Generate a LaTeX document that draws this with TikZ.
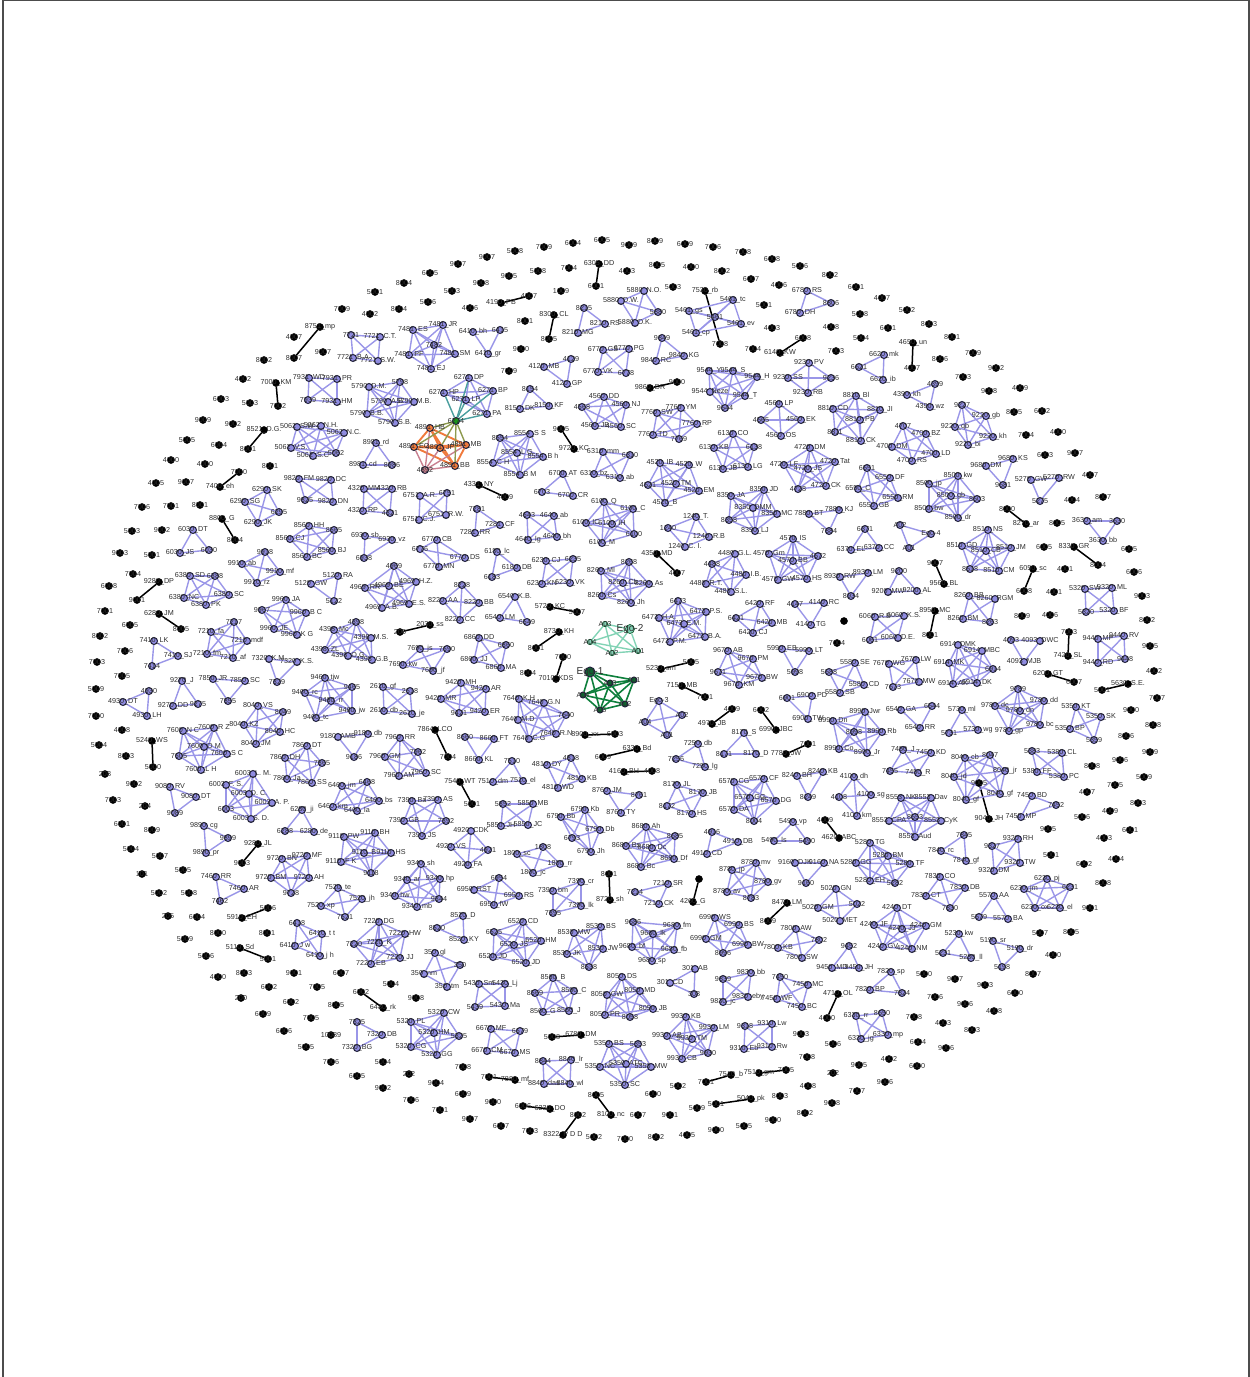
\documentclass[tikz,border=0pt]{standalone}
\usepackage{fontspec}
\setmainfont{Liberation Sans}
\catcode`\_=12
\definecolor{bfill}{HTML}{8F8BE0}
\definecolor{bline}{HTML}{9A96E8}
\definecolor{dark}{HTML}{20203A}
\definecolor{txt}{HTML}{2E2E2E}
\definecolor{oran}{HTML}{F07A3C}
\definecolor{rose}{HTML}{C98090}
\definecolor{oliv}{HTML}{8E9A4E}
\definecolor{teal1}{HTML}{4A9E9E}
\definecolor{gdark}{HTML}{0E7F3C}
\definecolor{glite}{HTML}{82D3B5}
\pgfdeclarelayer{edges}
\pgfsetlayers{edges,main}
\newcount\cid
\tikzset{
 x=1pt,y=-1pt,
 lab/.style={font=\fontsize{7.2}{8}\selectfont,text=txt,inner sep=0pt},
 isonode/.style={circle,fill=black,draw=black,line width=0.3pt,minimum size=7.2pt,inner sep=0pt},
 bnode/.style={circle,fill=bfill,draw=dark,line width=1pt,minimum size=7pt,inner sep=0pt},
 bedge/.style={draw=bline,line width=1.4pt},
 duoedge/.style={draw=black,line width=1.5pt},
 onode/.style={bnode,fill=oran},
 rnode/.style={bnode,fill=rose},
 anode/.style={bnode,fill=green!55!black!90},
 oedge/.style={draw=oran,line width=1.9pt},
 redge/.style={draw=rose,line width=1.4pt},
 liedge/.style={draw=oliv,line width=1.4pt},
 tedge/.style={draw=teal1,line width=1.4pt},
 g1node/.style={bnode,fill=gdark!80!black,minimum size=6pt},
 g1edge/.style={draw=gdark,line width=1.6pt},
 g2node/.style={bnode,fill=glite,draw=gdark!60!black,line width=0.6pt,minimum size=5.5pt},
 g2edge/.style={draw=glite,line width=1.4pt},
 frameline/.style={draw=black!70,line width=1.2pt},
}
\newcommand\ClqS[3]{%
 \global\advance\cid by 1
 \foreach \x/\y/\lbl [count=\k] in {#3}{%
  \node[#1,label={[lab]center:\lbl}] (c\the\cid-\k) at (\x,\y) {};\xdef\nk{\k}}%
 \begin{pgfonlayer}{edges}%
 \foreach \a in {1,...,\nk}{\foreach \b in {1,...,\nk}{%
  \ifnum\a<\b \draw[#2] (c\the\cid-\a)--(c\the\cid-\b);\fi}}%
 \end{pgfonlayer}}
\newcommand\Clq[1]{\ClqS{bnode}{bedge}{#1}}
\begin{document}
\begin{tikzpicture}
\useasboundingbox (0,0) rectangle (1250,1377);
\coordinate (fa) at (3,1377);\coordinate (fb) at (3,0.5);\coordinate (fc) at (1249,0.5);\coordinate (fd) at (1249,1377);
\draw[frameline] (fa)--(fb)--(fc)--(fd);
% isolated vertices
\foreach \x/\y/\lbl [count=\k] in {
430/273/6005,404/283/8004,375/292/5001,428/302/5006,399/309/8004,342/309/7009,370/314/4002,294/337/4007,323/352/9007,264/360/8002,
243/379/4002,221/399/6003,250/403/5003,203/420/9009,233/424/9002,187/440/5005,219/445/6004,171/460/4000,205/464/4000,270/466/8001,
156/483/4005,186/482/9007,142/507/7006,171/506/7001,200/505/8001,132/531/5003,162/530/9002,
515/251/5008,544/247/7009,573/243/6004,602/240/6005,629/245/9009,655/241/8009,685/244/6009,713/247/7006,743/252/7008,772/259/6008,800/266/5006,
487/257/9007,458/264/9007,509/276/9005,538/271/5008,569/268/7004,627/271/4003,657/265/8005,691/267/4000,722/271/8002,751/279/6007,779/285/4006,
481/283/9008,452/291/5003,561/291/1009,673/287/5003,470/308/4006,764/305/5001,525/321/8001,772/328/4003,521/349/9000,753/349/7004,509/371/7009,
830/275/8002,856/287/6001,882/298/4007,907/310/5002,860/314/5008,831/327/4008,888/328/6001,929/324/8003,861/338/5004,952/337/8001,836/351/7003,
973/353/7009,940/359/8006,996/368/9002,963/377/7003,989/391/9008,1020/388/4009,1014/412/8005,1042/411/6002,1026/435/7004,1058/432/4000,
1045/455/6003,1075/453/9007,1090/475/4007,1072/500/4004,1103/497/8007,1057/523/8005,
120/553/9003,152/555/5001,133/574/7004,109/586/6008,105/611/7001,130/625/6005,100/636/8002,125/651/7006,97/662/7003,122/676/7005,96/689/5009,
96/716/7000,122/730/4008,99/745/5004,126/756/8003,105/774/208,134/784/9002,113/800/7003,145/806/204,122/824/6001,152/830/8009,
131/849/5004,160/856/5007,142/874/101,183/870/5005,159/893/5002,189/893/5008,168/916/205,197/917/6004,218/933/8000,267/933/8001,185/939/5009,
206/956/5006,218/977/4000,244/973/8003,294/973/9001,341/973/6007,269/987/6002,317/987/7005,241/998/200,291/1002/6002,336/1005/8005,
391/984/5004,416/998/9008,263/1014/6009,311/1018/7005,284/1031/6006,331/1035/10089,306/1047/5005,331/1062/7006,383/1062/5004,409/1074/202,
357/1076/6005,436/1083/9004,383/1088/9002,411/1100/7006,440/1110/7001,528/673/8004,
1044/547/6005,1129/549/6005,1065/569/4001,1134/572/6006,1054/592/4001,1142/596/9003,1022/616/8009,1050/615/4006,1147/620/8002,844/621/{},
837/643/7004,1150/646/9005,1154/671/4002,1157/698/7007,1131/710/9000,1153/725/8008,1126/736/8006,1150/752/9009,1120/760/9006,1092/766/8008,
1144/777/5009,1115/785/7005,1087/792/4007,1138/803/8003,1082/817/5006,1110/811/4009,1048/829/9005,1130/830/6001,1104/838/4003,
1051/855/5001,1116/859/4004,1084/864/6002,1103/883/8008,1090/908/9001,1040/933/5007,1071/932/8005,1053/955/4000,1033/974/8007,924/974/5000,
955/979/9007,985/985/9003,1015/993/6000,935/997/7006,965/1004/9006,994/1011/4008,914/1017/7008,943/1023/4003,972/1030/8003,833/1044/5006,
918/1042/6004,946/1048/9006,859/1065/9005,889/1059/4002,917/1066/6000,833/1073/202,885/1082/9006,857/1091/7007,832/1103/9008,
463/1067/7008,463/1094/6009,493/1102/9000,470/1119/9007,501/1126/6007,530/1131/7003,594/1137/5002,625/1139/7000,656/1137/8002,687/1135/4005,
716/1130/9000,744/1126/5005,773/1120/9000,805/1113/8002,653/1094/6000,678/1086/5002,697/1108/5009,638/1115/6007,670/1115/9001,780/1096/8003,
808/1086/4008,801/1034/9003,807/1057/7008}
{\node[isonode,label={[lab]center:\lbl}] (i\k) at (\x,\y) {};}
% black pairs
\foreach \xa/\ya/\la/\xb/\yb/\lb [count=\k] in {
320/327/8751_mp/294/358/8007,276/383/7000_KM/278/406/7002,264/430/8521_D.G./248/449/8001,239/472/7000/220/487/7400_eh,222/519/8800_G/235/540/8004,
599/264/6305_DD/596/286/6001,501/303/4190_PB/529/296/4007,554/315/8300_CL/549/339/8005,705/291/7530_rb/720/344/7008,780/353/6140_KW/803/338/6008,
650/388/9860_DR/677/382/9000,561/429/9005/574/449/9720_KC,479/485/4331_NY/505/497/4009,
913/343/4650_un/912/368/4007,1007/509/8000/1026/524/8270_ar,
159/582/9280_DP/137/600/9001,159/614/6280_JM/181/629/8005,152/741/5240_WS/153/767/5000,400/632/200/430/625/2030_ss,435/730/7864_LCO/448/757/7004,
258/844/9280_JL/242/863/9003,268/908/5006/242/918/5910_EH,240/948/5110_Sd/268/959/5001,361/992/6002/383/1008/6480_rk,
550/607/5720_KC/577/612/5007,559/632/8730_KH/536/648/8001,563/657/7000/556/679/7010_KDS,657/554/4350_MD/677/573/4007,661/669/5230_sm/691/662/5005,
682/686/7150_MB/705/697/7001,732/709/4009/712/724/4970_JB,761/710/6002/776/730/6990_JBC,585/735/8900_xx/615/734/6003,637/749/6330_Bd/603/757/6009,
624/772/4160_BH/652/771/4008,460/782/7540_WT/472/804/5001,786/754/7780_JW/808/744/7001,
935/563/9007/944/584/9560_BL,1074/547/8330_GR/1098/565/8004,1033/569/6050_sc/1024/591/6008,935/611/8950_MC/930/635/8001,1069/632/7003/1068/656/7420_SL,
1048/674/6200_GT/1074/682/6007,1102/690/5001/1128/684/5630_S.E.,979/783/9005/989/819/9040_JH,825/820/4009/839/838/4620_ABC,
838/994/4710_OL/827/1018/4000,
609/874/8001/610/900/8720_sh,699/879/{}/693/902/4260_G,787/903/8470_LM/768/921/8009,552/1037/5008/581/1035/6780_DM,489/1077/7001/515/1080/7880_mf,
706/1082/7001/731/1075/7510_b,759/1073/7510_gm/786/1070/7005,596/1095/8005/611/1115/8100_nc,523/1106/6006/550/1109/6230_DO,716/1104/5001/751/1099/5040_pk,
578/1115/8002/563/1135/8322_P D D}
{\node[isonode,label={[lab]center:\la}] (pa\k) at (\xa,\ya) {};
 \node[isonode,label={[lab]center:\lb}] (pb\k) at (\xb,\yb) {};
 \begin{pgfonlayer}{edges}\draw[duoedge] (pa\k)--(pb\k);\end{pgfonlayer}}
% blue cliques, top left
\Clq{351/335/7721,380/337/7721_C.T.,353/358/7721_B.A,378/361/7721_S.W.}
\Clq{413/330/7481_ES,443/325/7481_JR,434/345/7482,409/355/7481_PF,431/369/7481_EJ,455/354/7481_SM}
\Clq{309/378/7931_WD,337/379/7931_PR,308/400/7939,337/402/7931_HM}
\Clq{369/387/5790_D.M.,400/382/5798,388/402/5790_A.B.,414/402/5790_M.B.,367/414/5790_B.B.,395/423/5790_S.B.}
\Clq{297/427/5062_S.W,321/426/5062_N.H.,344/433/5062_N.C.,291/448/5062_V.S.,313/456/5062_S.C,336/453/5062}
\Clq{376/443/8981_rd,363/465/8981_cd,392/465/8986}
\Clq{299/479/9820_FM,331/480/9820_DC,305/500/9825,333/502/9820_DN}
\Clq{267/490/6290_SK,245/502/6290_SG,279/512/6295,258/523/6290_JK}
\Clq{364/489/4320_MM,392/489/4320_RB,363/511/4320_RP,390/513/4321}
\Clq{420/496/6751_A.R.,447/493/6751,446/515/6751_R.W.,419/520/6751_C.J.}
% coloured ego group
\node[anode,label={[lab]center:6274}] (ap) at (456,421) {};
\node[onode,label={[lab]center:4891_HB}] (h1) at (430,428) {};
\node[onode,label={[lab]center:4891_EC}] (h2) at (414,447) {};
\node[onode,label={[lab]center:4891_JF}] (h3) at (440,448) {};
\node[onode,label={[lab]center:4891_MB}] (h4) at (466,445) {};
\node[onode,label={[lab]center:4891_BB}] (h5) at (455,466) {};
\node[rnode,label={[lab]center:4892}] (h6) at (425,470) {};
\node[bnode,label={[lab]center:6271_DP}] (t1) at (469,378) {};
\node[bnode,label={[lab]center:6271_HP}] (t2) at (444,393) {};
\node[bnode,label={[lab]center:6271_LP}] (t3) at (466,400) {};
\node[bnode,label={[lab]center:6271_BP}] (t4) at (493,391) {};
\node[bnode,label={[lab]center:6271_PA}] (t5) at (487,414) {};
\begin{pgfonlayer}{edges}
\foreach \a/\b in {1/2,1/3,1/4,1/5,2/3,2/4,2/5,3/4,3/5,4/5}{\draw[bedge] (t\a)--(t\b);\draw[oedge] (h\a)--(h\b);}
\foreach \a in {1,...,5}{\draw[tedge] (ap)--(t\a);\draw[liedge] (ap)--(h\a);\draw[redge] (h6)--(h\a);}
\end{pgfonlayer}
% top middle
\Clq{644/291/5880_N.O.,621/301/5880_D.W.,658/312/5880,635/323/5880_D.K.}
\Clq{733/300/5461_tc,689/311/5461_gs,715/317/5461,741/324/5461_ev,696/333/5461_cp}
\Clq{473/332/6410_bh,500/330/6415,488/354/6410_gr}
\Clq{584/308/8215,605/324/8210_RS,578/333/8210_MG}
\Clq{603/350/6770_GS,629/349/6770_PG,598/372/6770_VK,626/373/6778}
\Clq{662/338/9849,656/361/9840_RC,684/356/9840_KG}
\Clq{571/359/4129,544/367/4120_MB,567/384/4120_GP}
\Clq{530/389/8154,520/409/8150_DK,549/406/8150_KF}
\Clq{604/397/4560_DD,582/407/4568,626/405/4560_NJ,595/426/4560_JB,621/427/4560_SC}
\Clq{657/413/7760_SW,681/408/7760_YM,697/424/7760_RP,653/435/7760_TD,679/439/7769}
\Clq{709/371/9544_Y,733/371/9544_S,757/377/9544_H,710/392/9544_Neze,745/396/9544_T,725/408/9544}
\Clq{809/363/9230_PV,788/378/9230_SS,831/378/9236,808/393/9230_RB}
\Clq{530/434/8554_S S,500/438/8554,517/453/8554_L G,543/457/8554_B h,493/463/8554_C H,520/475/8554_B M}
\Clq{603/452/6310_mm,630/455/6310,594/474/6310_bz,620/478/6310_ab}
\Clq{563/474/6700_AT,542/492/6703,573/496/6700_CR}
\Clq{733/434/6130_CO,714/448/6130_KB,754/447/6138,723/469/6130_JB,748/467/6130_LG}
\Clq{779/404/4560_LP,761/420/4565,801/420/4560_EK,781/436/4560_OS}
\Clq{660/463/4520_IB,689/465/4520_W,676/484/4520_TM,648/485/4521,699/491/4520_EM,665/503/4520_B}
\Clq{731/496/8350_JA,764/490/8350_JD,753/508/8350_DMM,777/514/8350_MC,729/520/8358,755/531/8350_LJ}
\Clq{604/502/6100_Q,633/509/6100_C,586/523/6100_IC,612/524/6100_IH,602/543/6100_M,634/534/6100}
\Clq{527/515/4643,554/516/4640_ab,528/540/4640_lg,557/537/4640_bh}
\Clq{477/509/7281,500/525/7281_CF,475/533/7281_RR}
\Clq{696/517/1240_T.,668/528/1240,709/537/1240_R.B,685/547/1240_C. I.}
\Clq{809/514/7880_BT,839/510/7880_KJ,829/531/7884}
% top right
\Clq{807/291/6780_RS,831/303/8806,800/313/6780_DH}
\Clq{884/355/6620_mk,859/367/6621,883/380/6620_ib}
\Clq{935/384/4399,907/395/4390_kh,930/407/4390_wz}
\Clq{856/396/8810_Bl,833/409/8810_CD,880/410/8810_JI,860/420/8810_PB,835/432/8811,861/441/8810_CK}
\Clq{962/405/9227,986/416/9220_gb,955/427/9220_qb,993/437/9220_kh,968/445/9220_bi}
\Clq{903/426/4707,926/434/4700_BZ,892/447/4700_DM,936/454/4700_LD,912/461/4700_RS}
\Clq{810/448/4720_DM,835/462/4720_Tat,784/465/4720_LF,808/469/4720_JS,826/486/4720_CK,798/489/4728}
\Clq{1013/459/9680_KS,986/466/9680_DM,1003/485/9681}
\Clq{958/476/8500_kw,929/484/8500_jp,951/496/8500_gb,977/499/8503,929/509/8500_bw,958/518/8500_dr}
\Clq{867/468/6551,890/478/6550_DF,858/489/6550_C,898/498/6550_RM,874/506/6550_GB}
\Clq{1031/480/5270_GW,1059/478/5270_RW,1040/501/5275}
\Clq{1087/521/3630_am,1117/521/3630,1103/541/3630_bb}
\Clq{900/525/A02,931/534/Ego-4,909/548/A01}
\Clq{865/529/6371,851/550/6370_EL,879/548/6370_CC}
\Clq{988/530/8510_NS,962/546/8510_GD,986/551/8510_CB,1011/548/8510_JM,970/569/8518,999/571/8510_CM}
% middle left
\Clq{193/530/6030_DT,180/553/6030_JS,209/550/6030}
\Clq{265/552/9918,242/564/9910_ab,280/572/9910_mf,257/583/9910_rz}
\Clq{190/576/6380_SD,215/576/6388,229/595/6380_SC,184/598/6380_NC,206/605/6380_PK}
\Clq{309/526/8560_HH,334/530/8565,290/539/8560_CJ,332/551/8560_BJ,307/557/8560_BC}
\Clq{365/536/6930_sb,392/540/6930_vz,364/558/6938}
\Clq{338/576/5120_RA,311/584/5120_GW,334/601/5122}
\Clq{394/566/4969,416/582/4969_H.Z.,365/588/4969_RR,389/586/4969_BE,409/604/4969_E.S.,382/608/4969_A.B.}
\Clq{437/540/6770_CB,420/549/6776,465/558/6770_DS,439/567/6770_MN}
\Clq{286/600/9960_JA,262/610/9967,306/613/9960_B C,274/629/9960_JE,297/635/9960_K G}
\Clq{234/622/7217,211/632/7210_fa,247/641/7210_mdf,207/654/7210_fm,233/658/7210_af}
\Clq{154/641/7410_LK,178/656/7410_SJ,152/666/7414}
\Clq{356/622/4398,334/630/4398_Mc,371/638/4398_M.S.,325/650/4398_ZL,348/656/4398_O.G,372/660/4398_G.B}
\Clq{269/659/7320_K.M.,297/662/7320_K.S.,277/682/7329}
\Clq{420/649/7690_js,447/649/7690,403/665/7690_kw,433/671/7690_jf}
\Clq{182/681/9270_J,173/706/9270_DD,198/704/9275}
\Clq{213/679/7850_JR,245/681/7850_SC,228/701/7855}
\Clq{149/691/4930,123/702/4930_DT,147/716/4930_LH}
\Clq{325/678/9460_tjw,352/687/9465,305/693/9460_rc,331/701/9460_rr,352/711/9460_jw,316/718/9460_tc}
\Clq{383/687/2610_gf,410/691/2618,384/711/2610_db,412/714/2610_je}
\Clq{461/683/9420_MH,441/699/9420_MR,486/689/9420_AR,459/713/9421,485/712/9420_ER}
\Clq{258/706/8040_VS,283/712/8049,244/725/8040_KZ,280/732/8040_HC,256/744/8040_JM}
\Clq{214/728/7600_R Z,183/731/7600_N C,204/747/7600_O M,227/754/7600_S C,179/756/7605,201/770/7600_L H}
\Clq{338/737/9180_AMB,368/734/9180_db,354/757/9186}
\Clq{400/738/7960_RR,418/752/7962,385/757/7960_GM,399/776/7960_AM,426/773/7960_SC}
\Clq{307/746/7860_DT,285/758/7860_DH,322/763/7865,287/779/7860_Ja,312/783/7860_SS}
\Clq{253/774/6003_L. M.,226/785/6003_F. S.,249/794/6003_D. C.,272/803/6003_A. P.,226/809/6003,251/819/6003_S. D.}
\Clq{170/787/9080_RV,196/797/9080_DT,175/813/9089}
\Clq{342/786/6460_jm,367/782/6468,379/801/6460_bs,333/807/6460_km,357/811/6460_la}
\Clq{412/801/7390_Ba,438/800/7390_AS,404/821/7390_GB,446/821/7392,422/836/7390_JS}
\Clq{302/810/6280_ji,285/831/6288,314/832/6280_de}
\Clq{204/826/9890_cg,228/838/9899,206/853/9890_pr}
\Clq{344/837/9110_PW,375/833/9110_BH,364/853/9110_B,391/853/9110_HS,341/862/9110_F K,371/873/9118}
% bottom left
\Clq{216/877/7460_RR,244/889/7460_AR,220/901/7462}
\Clq{282/859/9720_BN,307/856/9720_MF,271/878/9720_BM,309/878/9720_AH,291/893/9728}
\Clq{338/888/7520_te,362/899/7520_jh,321/906/7520_xp,345/917/7521}
\Clq{297/923/6418,322/934/6410_t t,295/946/6410_J w,320/956/6410_j h}
\Clq{379/922/7220_DG,405/934/7220_HW,354/944/7220,379/943/7220_K,400/958/7220_JJ,371/964/7220_EB}
\Clq{421/864/9340_sh,407/880/9340_ar,440/879/9340_hp,395/896/9340_hw,439/899/9344,417/907/9340_mb}
\Clq{435/953/350_gl,460/965/350,424/974/350_nm,447/987/350_tm}
\Clq{444/1013/5320_CW,411/1022/5320_PL,434/1033/5320_HM,459/1036/5325,411/1047/5320_CG,437/1055/5320_GG}
\Clq{357/1022/7325,382/1035/7320_DB,357/1048/7320_BG}
\Clq{463/916/8520_D,437/928/8520,464/940/8520_KY}
% centre
\ClqS{g2node}{g2edge}{605/624/A03,590/642/A04,612/653/A02,638/651/A01}
\node[g2node,minimum size=9pt,label={[lab,font=\fontsize{10}{12}\selectfont]center:Ego-2}] (e2) at (630,629) {};
\ClqS{g1node}{g1edge}{610/683/A03,634/680/A01,583/695/A04,625/704/A02,600/710/A05}
\node[g1node,minimum size=10pt,label={[lab,font=\fontsize{10}{12}\selectfont]center:Ego-1}] (e1) at (590,672) {};
\begin{pgfonlayer}{edges}
\foreach \k in {1,...,5}{\draw[g1edge] (e1)--(c\the\cid-\k);}
\end{pgfonlayer}
\global\advance\cid by -1
\begin{pgfonlayer}{edges}
\foreach \k in {1,...,4}{\draw[g2edge] (e2)--(c\the\cid-\k);}
\end{pgfonlayer}
\global\advance\cid by 1
\Clq{659/701/Ego-3,682/715/A02,645/722/A04,667/735/A01}
\Clq{497/552/6180_lc,517/568/6180_DB,492/577/6183}
\Clq{546/561/6230_CJ,573/559/6235,542/584/6230_KN,570/583/6230_VK}
\Clq{601/571/8260_MI,629/562/8268,623/583/8260_Cb,649/584/8260_As,602/596/8260_Cs,631/603/8260_Jh}
\Clq{735/554/4480_G.L.,712/564/4488,746/575/4480_I.B.,706/584/4480_R.T.,731/592/4480_S.L.}
\Clq{793/539/4570_IS,769/554/4570_Gm,793/561/4570_BB,778/580/4570_GW,807/579/4570_HS,818/556/4572}
\Clq{443/601/8220_AA,462/585/8228,479/603/8220_BB,460/620/8220_CC}
\Clq{515/597/6540_K.B.,500/618/6540_LM,527/622/6549}
\Clq{678/601/6473,706/612/6473_P.S.,659/618/6473_H.A.,684/624/6473_E.M.,705/637/6473_B.A.,670/642/6473_P.M.}
\Clq{760/604/6420_RF,736/618/6421,772/623/6420_MB,753/633/6420_CJ}
\Clq{795/604/4147,824/603/4140_RC,811/625/4140_TG}
\Clq{479/638/6860_DD,506/645/6860,474/660/6860_JJ,501/668/6860_MA}
\Clq{519/699/7640_K.H,544/703/7640_G.N,566/715/7640,518/720/7640_M.D,556/734/7640_R.N,529/739/7640_C.G}
\Clq{728/651/9670_AB,753/659/9670_PM,718/672/9671,762/678/9670_BW,739/685/9670_KM}
\Clq{782/649/5990_EB,809/651/5990_LT,795/672/5998}
\Clq{465/737/8660,494/739/8660_FT,479/760/8660_KL}
\Clq{512/761/7510,493/782/7510_dm,523/781/7510_el}
\Clq{547/765/4810_DY,571/758/4818,582/779/4810_KB,558/788/4810_WD}
\Clq{698/744/7250_db,676/759/7256,705/767/7250_lg}
\Clq{744/733/8170_S,724/754/8171,756/754/8170_D}
\Clq{797/776/8240_BH,823/772/8240_KB,808/797/8249}
\Clq{734/782/6570_CG,764/779/6570_CF,750/798/6570_GG,776/801/6570_DG,734/810/6570_DA,754/821/8004}
\Clq{677/785/8170_JL,703/793/8170_JB,667/806/8172,692/814/8170_HS}
\Clq{607/791/8760_JM,639/795/8761,621/813/8760_TY}
\Clq{503/804/5852,533/804/5850_MB,501/826/5850_JH,528/825/5850_JC}
\Clq{585/810/6790_Kb,561/817/6790_Bb,600/830/6790_Db,572/838/6793,591/852/6790_Jh}
\Clq{646/827/8680_Ah,675/836/8685,626/846/8680_Bs,652/848/8680_Dc,674/859/8680_Df,641/867/8680_Bc}
\Clq{471/831/4920_CDK,451/847/4920_VS,488/850/4921,468/865/4920_FA}
\Clq{712/832/4916,738/842/4910_DB,707/854/4910_CD}
\Clq{793/822/5490_vp,774/841/5490_ls,807/841/5490}
% right
\Clq{840/577/8930_RW,868/573/8930_LM,851/596/8934}
\Clq{899/571/9200,888/592/9200_MW,917/591/9200_AL}
\Clq{1085/589/5320_SW,1112/588/5320_ML,1086/612/5320,1114/611/5320_BF}
\Clq{875/617/6060_R.B,904/616/6060_K.S.,870/640/6061,898/638/6060_D.E.}
\Clq{969/596/8260_BB,995/599/8260_RGM,963/619/8260_BM,990/622/8263}
\Clq{1011/640/4093,1040/641/4093_DWC,1024/662/4093_MJB}
\Clq{1098/639/9440_MP,1124/636/9440_RV,1098/663/9440_RD,1125/659/9448}
\Clq{958/645/6914_DMK,982/651/6914_MBC,949/663/6914_MK,993/669/6914,953/684/6914_AK,977/683/6914_DK}
\Clq{889/664/7670_WG,916/660/7670_LW,893/687/7673,919/682/7670_MW}
\Clq{855/663/5580_SE,829/672/5588,864/685/5580_CD,840/693/5580_SB}
\Clq{787/698/6901,812/696/6900_PD,808/719/6900_TW}
\Clq{1018/689/9789,1044/701/9780_dd,995/706/9780_dc,1020/711/9780_dn,1040/725/9780_bc,1009/731/9780_gp}
\Clq{1076/707/5350_KT,1101/717/5350_SK,1070/729/5350_BP,1094/740/5359}
\Clq{901/710/6540_GA,932/706/6544,920/728/6540_RR}
\Clq{962/710/5730_ml,949/733/5731,978/730/5730_wg}
\Clq{865/712/8990_Jwr,833/721/8990_Dn,854/732/8998,882/732/8990_Rb,839/749/8990_Co,867/753/8990_Jr}
\Clq{903/750/7450_J,931/753/7450_KD,890/771/7455,918/773/7450_R}
\Clq{1032/751/5383,1062/753/5380_CL,1037/772/5380_FF,1064/777/5380_PC}
\Clq{965/758/8040_cb,990/755/8047,954/777/8040_jd,1005/771/8040_jr,966/800/8040_gf,1000/794/8040_gf}
\Clq{854/777/4100_dh,839/797/4108,871/795/4100_sg,857/816/4100_km}
\Clq{901/798/8553_NK,931/798/8553_Dav,915/817/8553,889/821/8553_CPA,941/821/8553_CyK,915/837/8553_Aud}
\Clq{1032/796/7450_BD,1056/805/7452,1021/817/7450_MP}
% bottom right
\Clq{941/851/7840_rc,966/861/7840_gf,964/835/7845}
\Clq{1018/839/9320_RH,992/846/9327,1020/863/9320_TW,994/871/9320_DM}
\Clq{870/843/5280_TG,888/856/5280_BM,856/863/5280_GG,910/864/5280_TF,870/881/5280_EH,895/883/5282}
\Clq{824/863/9160_NA,795/863/9160_DJK,806/883/9160}
\Clq{940/877/7830_CO,965/888/7830_DB,926/896/7830_CT,950/908/7830}
\Clq{1047/879/6230_pj,1070/887/6231,1024/889/6230_jm,1035/908/6230_ox,1060/908/6230_el}
\Clq{994/896/5570_AA,979/917/5579,1008/919/5570_BA}
\Clq{836/889/5020_GN,857/904/5022,818/908/5020_GM,840/921/5020_MET}
\Clq{897/908/4240_DT,874/925/4240_JF,926/926/4240_GM,902/929/4240_JJ,883/947/4240_GV,912/949/4240_NM}
\Clq{959/934/5230_kw,943/953/5231,971/958/5230_ll}
\Clq{993/941/5190_sr,1020/949/5190_dr,1002/967/5198}
\Clq{849/946/9452,832/968/9450_MD,859/968/9450_JH}
\Clq{891/972/7820_sp,870/990/7820_BP,902/993/7824}
\Clq{856/1016/6330_rr,882/1013/8650,888/1035/6330_mp,861/1039/6330_jg}
% bottom middle
\Clq{543/847/1808,517/854/1800_sc,560/864/1800_rr,533/873/1800_jc}
\Clq{499/878/6954,474/890/6950_RST,519/896/6950_RS,494/905/6950_fW}
\Clq{581/882/7390_cr,553/891/7390_bm,553/913/7395,581/906/7390_lk}
\Clq{668/884/7210_SR,635/892/7214,659/904/7210_CK}
\Clq{756/863/8780_mv,732/870/8780_jp,768/882/8780_gv,727/892/8780_av,751/898/8783}
\Clq{523/922/6520_CD,494/932/6525,541/941/6520_HM,514/945/6520_JS,493/957/6520_JD,526/963/6520_JD}
\Clq{601/927/8530_BS,574/933/8530_MW,603/949/8530_JW,567/954/8530_JK,589/967/8538}
\Clq{633/922/9686,677/926/9680_fm,653/934/9680_lk,632/947/9680_bf,674/950/9680_fb,652/961/9680_sp}
\Clq{715/918/6990_WS,739/925/6990_BS,706/939/6990_GM,748/945/6990_BW,723/953/8996}
\Clq{796/929/7800_AW,819/940/7802,778/948/7800_KB,802/958/7800_SW}
\Clq{695/969/301_AB,670/983/301_CD,694/994/308}
\Clq{479/984/5430_Sm,505/984/5430_Lj,475/1007/5439,505/1006/5430_Ma}
\Clq{553/978/8560_B,535/993/8569,574/991/8560_C,543/1012/8560_G,569/1011/8560_J}
\Clq{622/977/8050_DS,640/991/8050_MD,607/995/8050_GW,653/1009/8050_JB,605/1015/8050_PR,630/1017/8058}
\Clq{723/979/9839,751/973/9830_bb,748/997/9830_eby,723/1002/9830_jc}
\Clq{780/977/7450,808/985/7450_MC,777/999/7450_WF,802/1007/7450_BC}
\Clq{686/1017/9930_KB,714/1028/9930_LM,667/1036/9930_AB,692/1039/9930_TM,708/1053/9930,682/1059/9930_CB}
\Clq{745/1026/9318,772/1024/9310_Lw,744/1049/9310_Eb,772/1047/9310_Rw}
\Clq{491/1029/6670_MF,520/1031/6679,487/1051/6670_CM,515/1053/6670_MS}
\Clq{609/1044/5350_BS,638/1044/5353,626/1064/5350_ATC,600/1067/5350_NC,651/1067/5350_MW,625/1085/5350_SC}
\Clq{543/1061/8844,571/1060/8840_lr,544/1084/8840_das,570/1084/8840_wl}
\end{tikzpicture}
\end{document}
